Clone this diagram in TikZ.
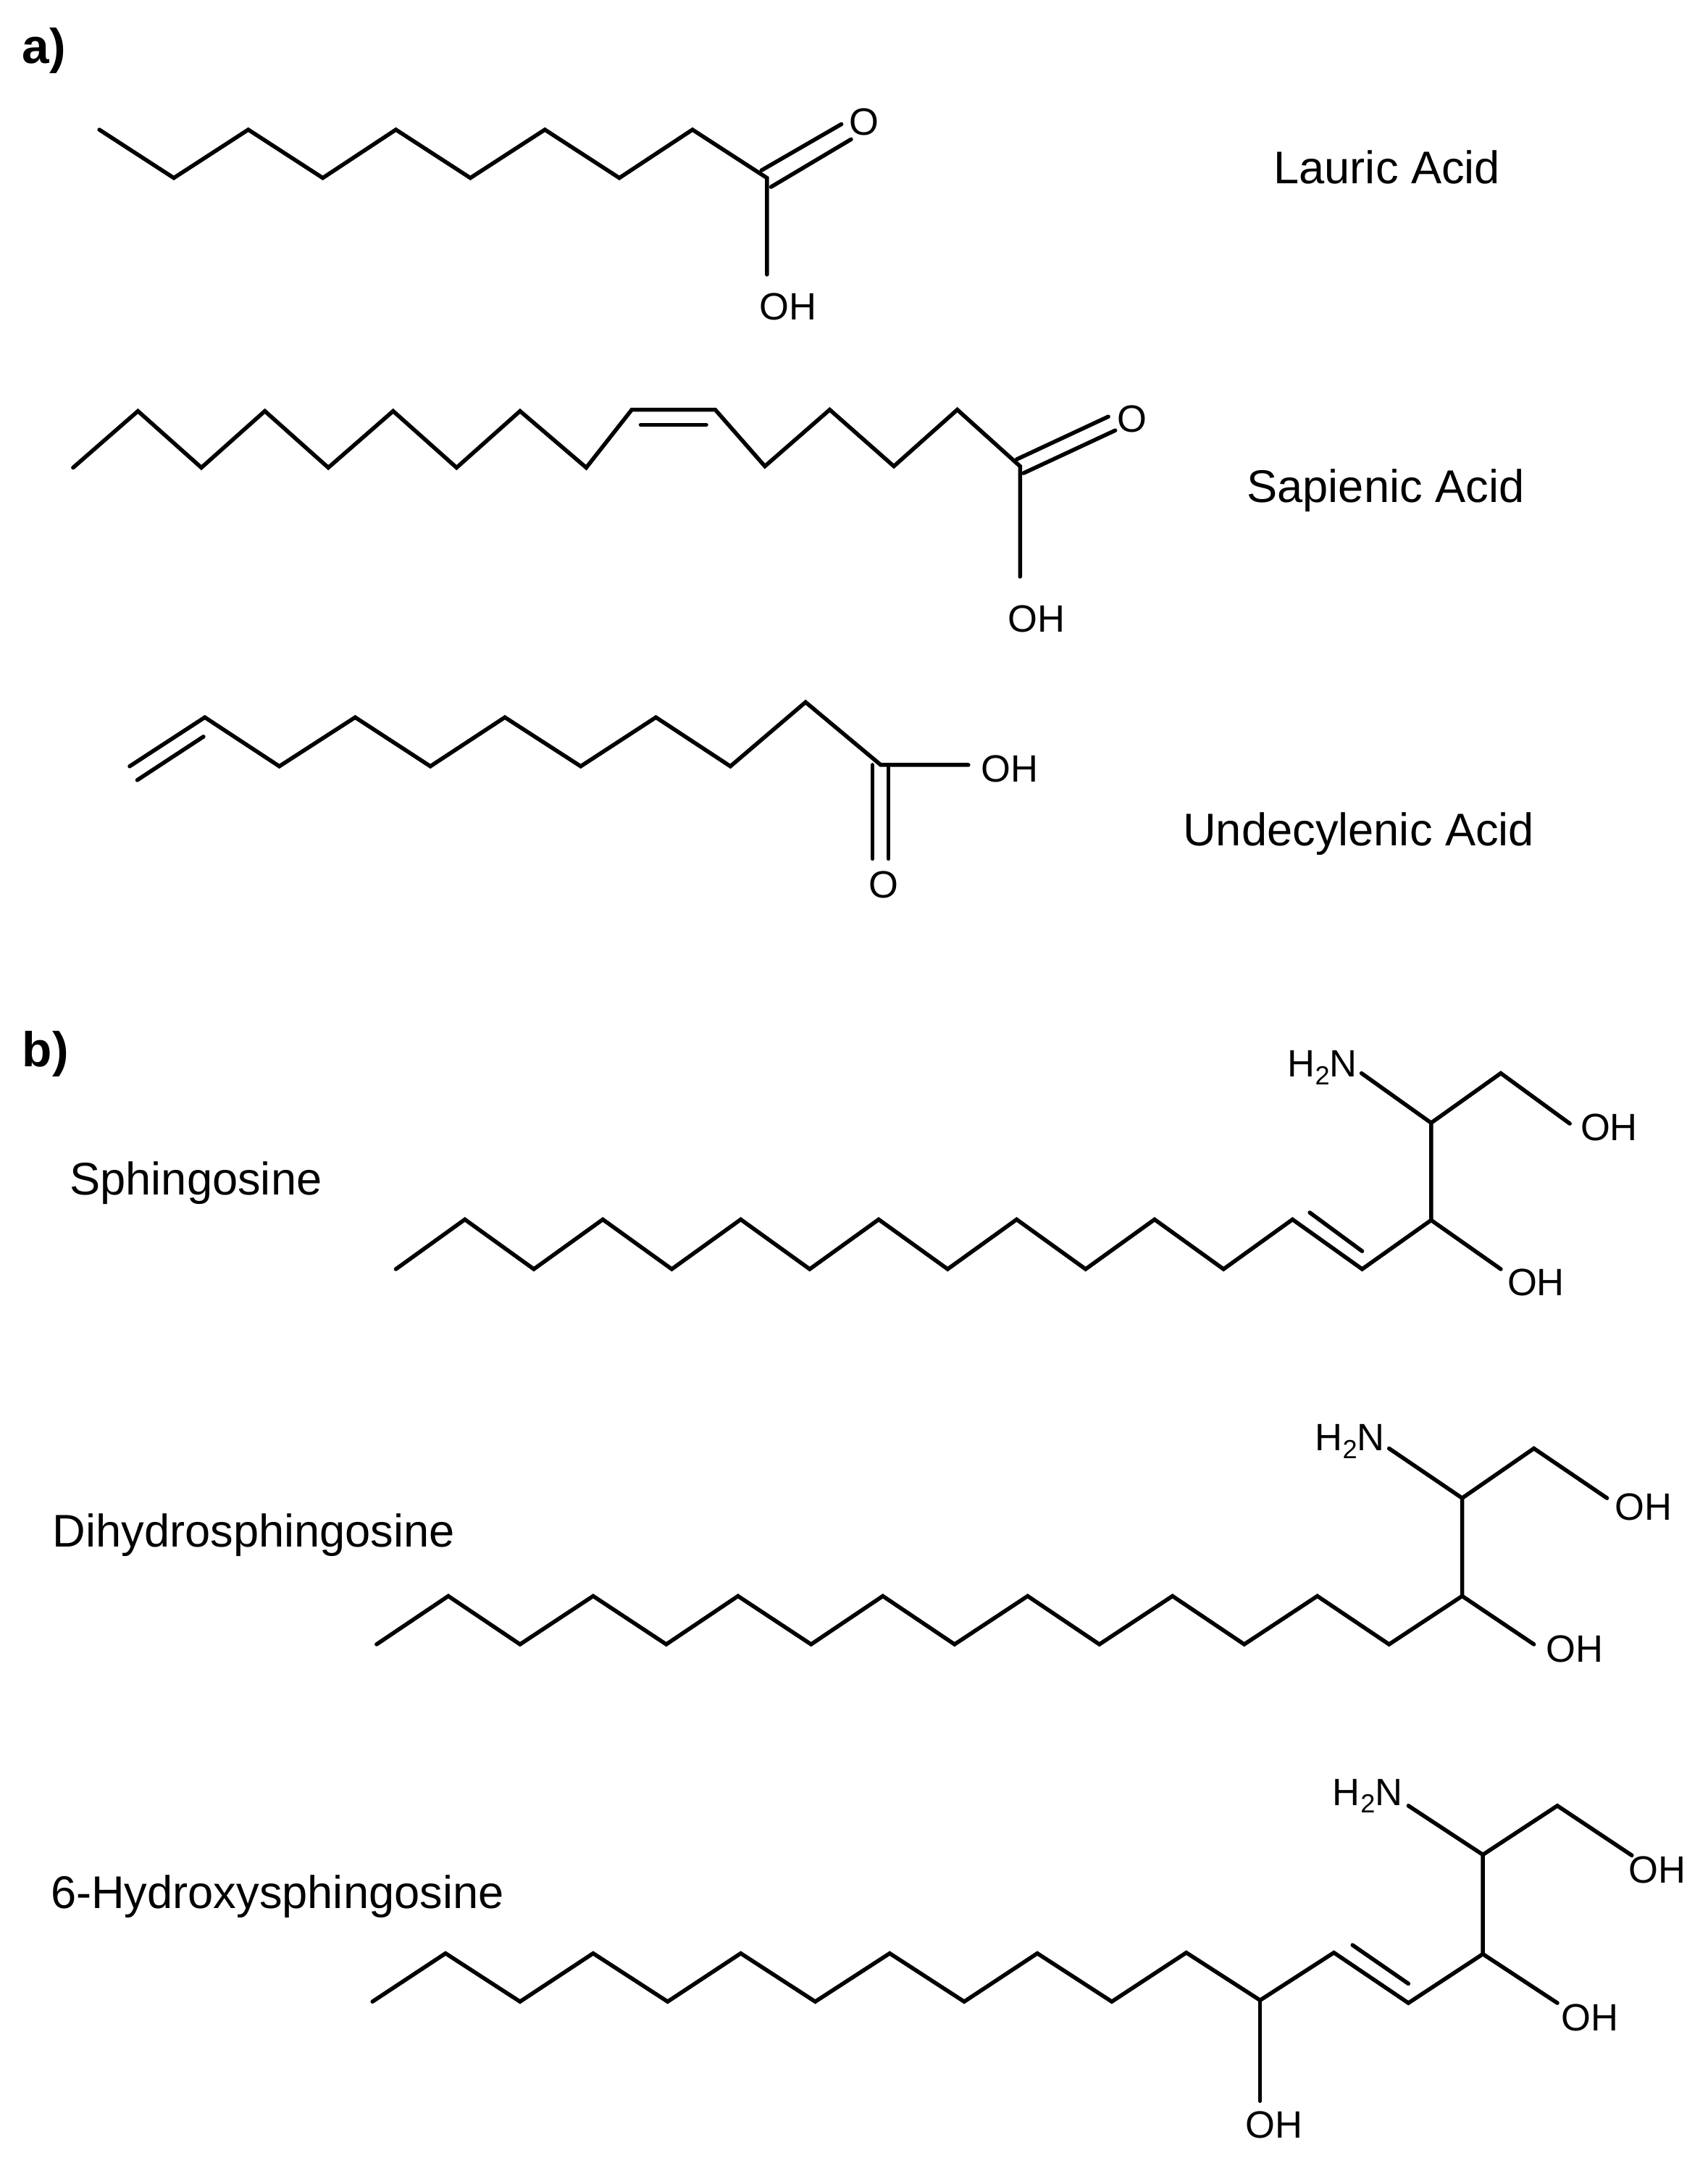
\documentclass[tikz,border=0pt]{standalone}
\usepackage{fontspec}
\setmainfont{Liberation Sans}
\newcommand{\atomfs}{\fontsize{27.6}{30}\selectfont}
\newcommand{\namefs}{\fontsize{33.2}{36}\selectfont}
\newcommand{\NHtwo}{H\kern0.3pt\raisebox{-5.5pt}{\fontsize{19}{20}\selectfont 2}N}
\tikzset{
  bond/.style={line width=2.9pt,line cap=round,line join=miter,miter limit=10,black},
  atom/.style={inner sep=0pt,font=\atomfs,text=black},
  cname/.style={inner sep=0pt,font=\namefs,text=black},
  panel/.style={inner sep=0pt,font=\fontsize{35.5}{38}\selectfont\bfseries,text=black}
}
\begin{document}
\begin{tikzpicture}[x=1pt,y=-1pt]
\useasboundingbox[fill=white] (0,0) rectangle (1238,1568);
% panel labels
\node[panel] (pa) at (32,37) {a)};
\node[panel] (pb) at (33,764) {b)};
% names
\node[cname] (lauric) at (1005.5,121) {Lauric Acid};
\node[cname] (sapienic) at (1004.5,355.5) {Sapienic Acid};
\node[cname] (undec) at (985,604.5) {Undecylenic Acid};
\node[cname] (sph) at (142,857.5) {Sphingosine};
\node[cname] (dihyd) at (184,1113) {Dihydrosphingosine};
\node[cname] (hydroxy) at (201,1375) {6-Hydroxysphingosine};
% Lauric acid
\node[atom] (lO) at (626.5,88.5) {O};
\node[atom] (lOH) at (571.5,222.5) {OH};
\draw[bond] (72,94) -- (126,129) -- (180,94) -- (234,129) -- (287,94) -- (341,129) -- (395,94) -- (449,129) -- (502,94) -- (556,129) coordinate (lC) -- (556,199) coordinate (lOe);
\draw[bond] (552,123.5) coordinate (ld1) -- (610,90) coordinate (ld2);
\draw[bond] (559,135.5) coordinate (ld3) -- (617,101) coordinate (ld4);
% Sapienic acid
\node[atom] (sO) at (820.5,303.5) {O};
\node[atom] (sOH) at (751.5,448.5) {OH};
\draw[bond] (53,339) -- (100,298) -- (146,339) -- (192,298) -- (238,339) -- (285,298) -- (331,339) -- (377,298) -- (425,339) -- (458,297) -- (518.5,297) -- (554.5,338) -- (601.5,297) -- (648,338) -- (694,297) -- (739.5,338) coordinate (sC) -- (739.5,418) coordinate (sOe);
\draw[bond] (464.5,308) coordinate (sd1) -- (512,308) coordinate (sd2);
\draw[bond] (737,333) coordinate (sd3) -- (803.5,302) coordinate (sd4);
\draw[bond] (742,343) coordinate (sd5) -- (808.5,312) coordinate (sd6);
% Undecylenic acid
\node[atom] (uO) at (640.5,641.5) {O};
\node[atom] (uOH) at (732,557.5) {OH};
\draw[bond] (94,555.5) coordinate (ud1) -- (148.5,520) -- (202.5,555.5) -- (257.5,520) -- (312,555.5) -- (366,520) -- (421,555.5) -- (475.5,520) -- (529.5,555.5) -- (584,509) -- (638.5,554.5) coordinate (uC) -- (702,554.5) coordinate (uOe);
\draw[bond] (99.5,565.5) coordinate (ud2) -- (147.5,534) coordinate (ud3);
\draw[bond] (632.5,554.5) coordinate (ud4) -- (632.5,622.5) coordinate (ud5);
\draw[bond] (644,554.5) coordinate (ud6) -- (644,622.5) coordinate (ud7);
% Sphingosine
\node[atom] (aN) at (958.5,774) {\NHtwo};
\node[atom] (aOH1) at (1166.5,817.5) {OH};
\node[atom] (aOH2) at (1113.5,929.5) {OH};
\draw[bond] (287,920) -- (337,884) -- (387,920) -- (437,884) -- (487,920) -- (537,884) -- (587,920) -- (637,884) -- (687,920) -- (737,884) -- (787,920) -- (837,884) -- (887,920) -- (937,884) -- (987.5,920) -- (1037.5,884.5) coordinate (aC3) -- (1088,920) coordinate (aOe2);
\draw[bond] (aC3) -- (1037.5,814) coordinate (aC2) -- (1088,778) -- (1138,814.5) coordinate (aOe1);
\draw[bond] (aC2) -- (987,778) coordinate (aNe);
\draw[bond] (949.5,879) coordinate (ad1) -- (987.5,907) coordinate (ad2);
% Dihydrosphingosine
\node[atom] (bN) at (978.5,1045) {\NHtwo};
\node[atom] (bOH1) at (1191.5,1092.5) {OH};
\node[atom] (bOH2) at (1141.5,1195.5) {OH};
\draw[bond] (273,1192) -- (325,1157) -- (377,1192) -- (430,1157) -- (483,1192) -- (535,1157) -- (588,1192) -- (640,1157) -- (692,1192) -- (745,1157) -- (797,1192) -- (850,1157) -- (902,1192) -- (955,1157) -- (1007,1192) -- (1060,1157) coordinate (bC3) -- (1112,1192) coordinate (bOe2);
\draw[bond] (bC3) -- (1060,1086) coordinate (bC2) -- (1112,1050) -- (1165,1086) coordinate (bOe1);
\draw[bond] (bC2) -- (1007,1050) coordinate (bNe);
% 6-Hydroxysphingosine
\node[atom] (cN) at (991.5,1302) {\NHtwo};
\node[atom] (cOH1) at (1201.5,1355.5) {OH};
\node[atom] (cOH2) at (1152.5,1462.5) {OH};
\node[atom] (cOH3) at (923.5,1540.5) {OH};
\draw[bond] (270,1451) -- (323,1416) -- (377,1451) -- (430,1416) -- (484,1451) -- (537,1416) -- (591,1451) -- (645,1416) -- (699,1451) -- (752,1416) -- (806,1451) -- (860,1415.5) -- (913.5,1450) coordinate (cC6) -- (967,1415.5) -- (1021,1452) -- (1075,1416.5) coordinate (cC3) -- (1129,1452) coordinate (cOe2);
\draw[bond] (cC3) -- (1075,1344.5) coordinate (cC2) -- (1129,1309) -- (1183,1345) coordinate (cOe1);
\draw[bond] (cC2) -- (1021,1309) coordinate (cNe);
\draw[bond] (cC6) -- (913.5,1523) coordinate (cOe3);
\draw[bond] (980.5,1410) coordinate (cd1) -- (1021,1438) coordinate (cd2);
\end{tikzpicture}
\end{document}
